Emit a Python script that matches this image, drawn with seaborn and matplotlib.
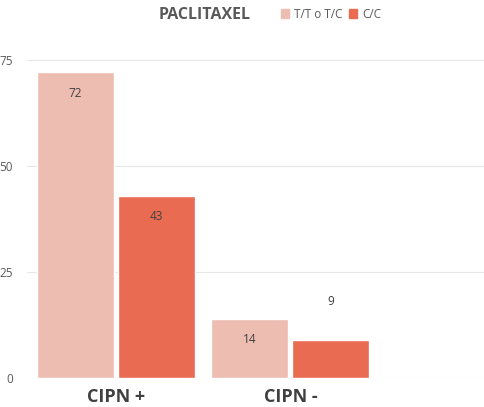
import seaborn as sns
import matplotlib.pyplot as plt
import pandas as pd

groups = ["CIPN +", "CIPN -"]
genotypes = ["T/T o T/C", "C/C"]
light_vals = [72, 14]
dark_vals = [43, 9]
colors = ["#EDBDB2", "#E96B51"]

df = pd.DataFrame({
    "group": groups * 2,
    "genotype": [genotypes[0]] * 2 + [genotypes[1]] * 2,
    "value": light_vals + dark_vals,
})

sns.set_style("white")
plt.rcParams["font.family"] = ["Open Sans", "DejaVu Sans"]

fig = plt.figure(figsize=(4.84, 4.07), dpi=100)
ax = fig.add_axes([27 / 484, 29 / 407, 1 - 27 / 484, (378 - 30) / 407])

sns.barplot(data=df, x="group", y="value", hue="genotype", palette=colors,
            width=0.93, gap=0.05, ax=ax, legend=False, saturation=1)

ax.set_xlim(-0.51, 2.11)
ax.set_ylim(0, 82)
ax.set_yticks([0, 25, 50, 75])
ax.yaxis.grid(True, color="#E6E6E6", linewidth=0.8)
ax.set_axisbelow(True)
for s in ax.spines.values():
    s.set_visible(False)
ax.tick_params(axis="y", length=0, labelsize=8.5, labelcolor="#595959", pad=10)
ax.tick_params(axis="x", length=0, pad=7)
for lab in ax.get_xticklabels():
    lab.set_fontsize(13)
    lab.set_fontweight("bold")
    lab.set_color("#404040")
ax.set_xlabel("")
ax.set_ylabel("")

for bars in ax.containers:
    for b in bars:
        h = b.get_height()
        x = b.get_x() + b.get_width() / 2
        if h > 12:
            ax.text(x, h - 5, f"{h:.0f}", ha="center", va="center", fontsize=8.5, color="#404040")
        else:
            ax.text(x, h + 9, f"{h:.0f}", ha="center", va="center", fontsize=8.5, color="#404040")

fig.text(205 / 484, 1 - 15 / 407, "PACLITAXEL", ha="center", va="center",
         fontsize=11.5, fontweight="bold", color="#595959")
handles = [plt.Rectangle((0, 0), 1, 1, color=c) for c in colors]
fig.legend(handles, genotypes, loc="center left", bbox_to_anchor=(270 / 484, 1 - 14 / 407),
           ncol=2, frameon=False, fontsize=8.5, labelcolor="#595959",
           handlelength=0.7, handleheight=0.7, handletextpad=0.4, columnspacing=0.6)

fig.savefig("out.png", dpi=100)
